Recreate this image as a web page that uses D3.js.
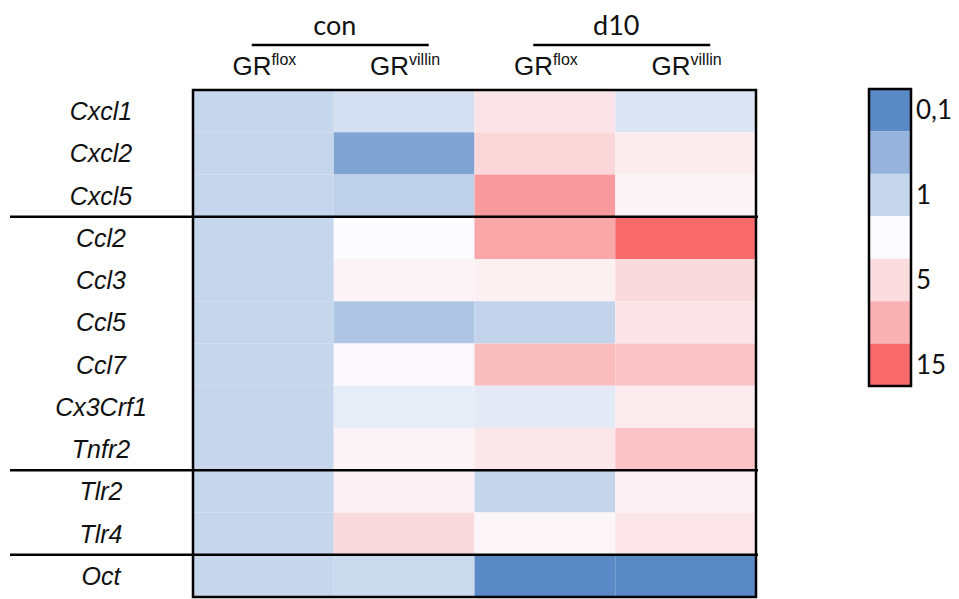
<!DOCTYPE html>
<html><head><meta charset="utf-8">
<script src="https://cdn.jsdelivr.net/npm/d3@7"></script>
<style>body{margin:0;background:#fff}svg{display:block}</style>
</head><body>
<script>
const genes = ["Cxcl1","Cxcl2","Cxcl5","Ccl2","Ccl3","Ccl5","Ccl7","Cx3Crf1","Tnfr2","Tlr2","Tlr4","Oct"];
const columns = ["con GRflox","con GRvillin","d10 GRflox","d10 GRvillin"];
const groups = ["con","d10"];
const colSup = ["flox","villin","flox","villin"];
// fold change values per column
const conFlox   = [1,1,1,1,1,1,1,1,1,1,1,1];
const conVillin = [1.35,0.22,0.86,3.16,3.48,0.6,3.33,1.98,3.48,3.55,4.53,1.14];
const d10Flox   = [4.08,4.68,8.8,7.8,3.59,0.92,6.17,1.86,3.95,0.98,3.37,0.1];
const d10Villin = [1.56,3.75,3.41,14.8,4.53,4.08,5.78,3.79,5.78,3.55,4.03,0.1];
const separatorsAfter = ["Cxcl5","Tnfr2","Tlr4"];
const legendValues = [0.1,0.35,1,3.16,4.4,6.9,15];
const legendLabels = ["0,1","","1","","5","","15"];

const series = [conFlox, conVillin, d10Flox, d10Villin];
const W = 959, H = 599;
const svg = d3.select("body").append("svg").attr("width", W).attr("height", H);

const x = d3.scaleBand().domain(columns).range([193, 756]);
const y = d3.scaleBand().domain(genes).range([90, 597]);
const color = d3.scaleLinear().domain([-1, 0.5, Math.log10(15)])
  .range(["#5A8AC6", "#FCFCFF", "#F8696B"]).clamp(true);
const col = v => color(Math.log10(v));

const cells = [];
columns.forEach((c, ci) => genes.forEach((g, gi) => cells.push({c, g, v: series[ci][gi]})));
svg.append("g").selectAll("rect").data(cells).join("rect")
  .attr("x", d => x(d.c)).attr("y", d => y(d.g))
  .attr("width", x.bandwidth()).attr("height", y.bandwidth())
  .attr("fill", d => col(d.v));

// row labels
svg.append("g").selectAll("text").data(genes).join("text")
  .attr("x", 101).attr("y", d => y(d) + y.bandwidth() / 2 + 9)
  .attr("text-anchor", "middle")
  .style("font-family", "'Liberation Sans', Arial, sans-serif")
  .style("font-style", "italic").style("font-size", "25px").attr("fill", "#111")
  .text(d => d);

// separators
svg.append("g").selectAll("line").data(separatorsAfter).join("line")
  .attr("x1", 10).attr("x2", 758)
  .attr("y1", d => y(d) + y.bandwidth()).attr("y2", d => y(d) + y.bandwidth())
  .attr("stroke", "#000").attr("stroke-width", 2.5);

// outer border
svg.append("rect").attr("x", 193).attr("y", 90).attr("width", 756 - 193).attr("height", 597 - 90)
  .attr("fill", "none").attr("stroke", "#000").attr("stroke-width", 2.5);

// column headers
const hdr = svg.append("g");
columns.forEach((c, ci) => {
  const t = hdr.append("text")
    .attr("x", x(c) + x.bandwidth() / 2 + 1).attr("y", 75)
    .attr("text-anchor", "middle")
    .style("font-family", "'Liberation Sans', Arial, sans-serif")
    .style("font-size", "26px").attr("fill", "#111");
  t.append("tspan").text("GR");
  t.append("tspan").attr("dy", -10).style("font-size", "16px").text(colSup[ci]);
});
groups.forEach((gname, gi) => {
  const c1 = columns[gi * 2 + 1];
  const cx = x(c1);
  hdr.append("text").attr("x", cx + 1).attr("y", 35).attr("text-anchor", "middle")
    .style("font-family", "Lato, 'Open Sans', sans-serif").style("font-size", "27px").attr("fill", "#111")
    .text(gname);
  hdr.append("line").attr("x1", cx - 82).attr("x2", cx + 95).attr("y1", 45).attr("y2", 45)
    .attr("stroke", "#000").attr("stroke-width", 2.5);
});

// legend
const ly = d3.scaleBand().domain(d3.range(legendValues.length)).range([89, 386]);
const lg = svg.append("g");
lg.selectAll("rect").data(legendValues).join("rect")
  .attr("x", 869).attr("width", 42)
  .attr("y", (d, i) => ly(i)).attr("height", ly.bandwidth())
  .attr("fill", d => col(d));
lg.append("rect").attr("x", 869).attr("y", 89).attr("width", 42).attr("height", 386 - 89)
  .attr("fill", "none").attr("stroke", "#000").attr("stroke-width", 2.5);
lg.selectAll("text").data(legendLabels).join("text")
  .attr("x", 916).attr("y", (d, i) => ly(i) + ly.bandwidth() / 2 + 9)
  .style("font-family", "Lato, 'Open Sans', sans-serif").style("font-size", "26px").attr("fill", "#111")
  .text(d => d);
</script>
</body></html>
